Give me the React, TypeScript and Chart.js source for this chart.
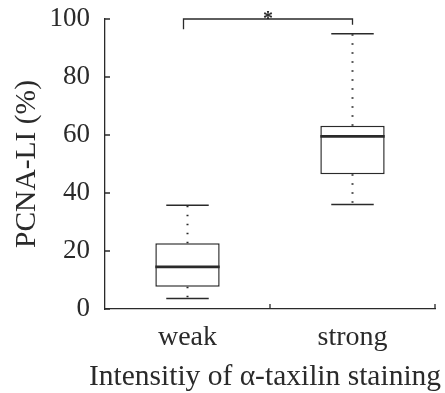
import React, { useEffect, useRef } from "react";
import { Chart, registerables } from "chart.js";

Chart.register(...registerables);

const categories = ["weak", "strong"];
const whiskerLow = [3.6, 36];
const q1 = [7.7, 46.5];
const median = [14.5, 59.5];
const q3 = [22.7, 63.2];
const whiskerHigh = [35.8, 94.9];
const yTicks = [0, 20, 40, 60, 80, 100];
const bracketTop = 100;
const bracketLegLow = [96.5, 98];
const sigLabel = "*";
const xTitle = "Intensitiy of α-taxilin staining";
const yTitle = "PCNA-LI (%)";

const FONT = '"Liberation Serif", "Times New Roman", serif';
const INK = "#2a2a2a";

const boxPlugin = {
  id: "boxExtras",
  afterDatasetsDraw(chart: any) {
    const { ctx, scales, chartArea } = chart;
    const x = scales.x;
    const y = scales.y;
    const meta = chart.getDatasetMeta(0);
    ctx.save();
    ctx.strokeStyle = INK;
    categories.forEach((_, i) => {
      const bar = meta.data[i];
      const cx = x.getPixelForValue(i);
      const half = bar.width / 2;
      ctx.lineWidth = 2.8;
      ctx.setLineDash([]);
      ctx.beginPath();
      ctx.moveTo(cx - half, y.getPixelForValue(median[i]));
      ctx.lineTo(cx + half, y.getPixelForValue(median[i]));
      ctx.stroke();
      ctx.lineWidth = 2;
      ctx.setLineDash([1.5, 7.5]);
      ctx.beginPath();
      ctx.moveTo(cx, y.getPixelForValue(q3[i]));
      ctx.lineTo(cx, y.getPixelForValue(whiskerHigh[i]));
      ctx.moveTo(cx, y.getPixelForValue(q1[i]));
      ctx.lineTo(cx, y.getPixelForValue(whiskerLow[i]));
      ctx.stroke();
      ctx.setLineDash([]);
      ctx.lineWidth = 1.5;
      const capHalf = half * 0.66;
      ctx.beginPath();
      ctx.moveTo(cx - capHalf, y.getPixelForValue(whiskerHigh[i]));
      ctx.lineTo(cx + capHalf, y.getPixelForValue(whiskerHigh[i]));
      ctx.moveTo(cx - capHalf, y.getPixelForValue(whiskerLow[i]));
      ctx.lineTo(cx + capHalf, y.getPixelForValue(whiskerLow[i]));
      ctx.stroke();
    });
    ctx.lineWidth = 1.3;
    ctx.beginPath();
    yTicks.forEach((v) => {
      const py = y.getPixelForValue(v);
      ctx.moveTo(chartArea.left, py);
      ctx.lineTo(chartArea.left + 5, py);
    });
    const p0 = x.getPixelForValue(0);
    const p1 = x.getPixelForValue(1);
    const mid = (p0 + p1) / 2;
    [mid, chartArea.right].forEach((px) => {
      ctx.moveTo(px, chartArea.bottom);
      ctx.lineTo(px, chartArea.bottom - 5);
    });
    ctx.stroke();
    const by = y.getPixelForValue(bracketTop);
    ctx.lineWidth = 1.3;
    ctx.beginPath();
    ctx.moveTo(p0 - 4, y.getPixelForValue(bracketLegLow[0]));
    ctx.lineTo(p0 - 4, by);
    ctx.lineTo(p1, by);
    ctx.lineTo(p1, y.getPixelForValue(bracketLegLow[1]));
    ctx.stroke();
    ctx.fillStyle = INK;
    ctx.font = `bold 20px ${FONT}`;
    ctx.textAlign = "center";
    ctx.textBaseline = "middle";
    ctx.fillText(sigLabel, (p0 - 4 + p1) / 2, by + 1);
    // x-axis title (drawn here so it may extend beyond the plot width)
    ctx.font = `29.5px ${FONT}`;
    ctx.textAlign = "center";
    ctx.textBaseline = "alphabetic";
    ctx.fillText(xTitle, (chartArea.left + chartArea.right) / 2 - 5, x.bottom - 8);
    ctx.restore();
  },
};

export default function App() {
  const ref = useRef<HTMLCanvasElement>(null);
  useEffect(() => {
    if (!ref.current) return;
    const chart = new Chart(ref.current, {
      type: "bar",
      data: {
        labels: categories,
        datasets: [
          {
            data: categories.map((_, i) => [q1[i], q3[i]]),
            backgroundColor: "#ffffff",
            borderColor: INK,
            borderWidth: 1.5,
            borderSkipped: false,
            barPercentage: 0.39,
            categoryPercentage: 1,
          },
        ],
      },
      options: {
        animation: false,
        responsive: false,
        events: [],
        layout: { padding: { top: 19, right: 10, left: 0, bottom: 0 } },
        plugins: { legend: { display: false }, tooltip: { enabled: false } },
        scales: {
          x: {
            offset: true,
            grid: { display: false, drawTicks: true, tickLength: 12 },
            border: { display: true, color: INK, width: 1.3 },
            ticks: { color: INK, font: { family: FONT, size: 28 }, padding: 0 },
            title: { display: false },
            afterFit(scale: any) {
              scale.height = 84;
            },
          },
          y: {
            min: 0,
            max: 100,
            afterBuildTicks(scale: any) {
              scale.ticks = yTicks.map((v) => ({ value: v }));
            },
            grid: { display: false, drawTicks: true, tickLength: 15 },
            border: { display: true, color: INK, width: 1.3 },
            ticks: { color: INK, font: { family: FONT, size: 27 }, padding: 0 },
            title: {
              display: true,
              text: yTitle,
              color: INK,
              font: { family: FONT, size: 29.5 },
              padding: { top: 10, bottom: 0 },
            },
            afterFit(scale: any) {
              scale.width = 105;
            },
          },
        },
      },
      plugins: [boxPlugin],
    });
    return () => chart.destroy();
  }, []);
  return (
    <div style={{ position: "absolute", left: 0, top: 0, width: 445, height: 393, background: "#fff" }}>
      <canvas ref={ref} width={445} height={393} />
    </div>
  );
}
